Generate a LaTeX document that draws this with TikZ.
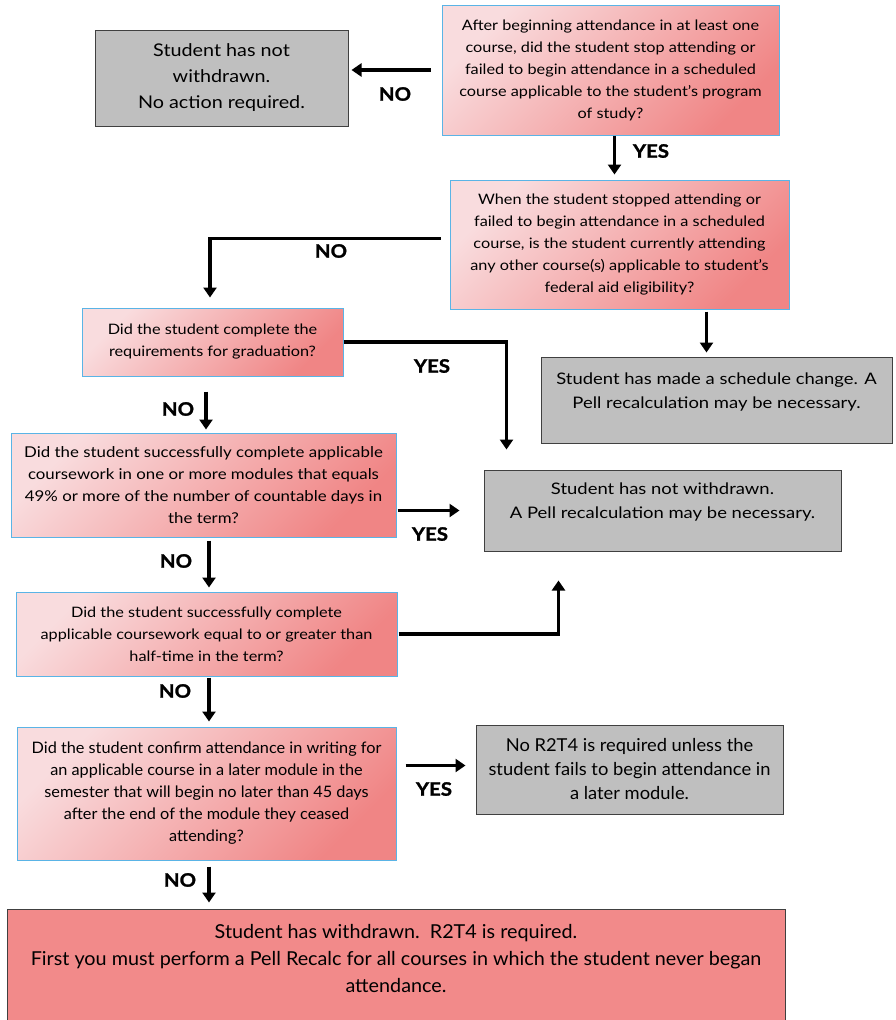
\documentclass[tikz,border=0pt]{standalone}
\usepackage{fontspec}
\setmainfont{Lato}[FakeStretch=1.13]
\newfontfamily\narrowfont{Lato}[FakeStretch=1.03]
\newfontfamily\widefont{Lato}[FakeStretch=1.16]
\newfontfamily\labelfont{Lato Bold}[FakeStretch=1.1, FakeBold=1.5]
\usetikzlibrary{arrows.meta}
\definecolor{qlight}{HTML}{F9DCDE}
\definecolor{qdark}{HTML}{F08585}
\definecolor{qedge}{HTML}{5AB4E6}
\definecolor{agray}{HTML}{BFBFBF}
\definecolor{aedge}{HTML}{404040}
\definecolor{wred}{HTML}{F28A8A}

\begin{document}
\begin{tikzpicture}[x=1pt,y=-1pt,
    question/.style={draw=qedge, line width=1pt, top color=qlight, bottom color=qdark,
      shading angle=45, align=center, inner sep=0pt, font=\fontsize{14.4}{22}\selectfont},
    answer/.style={draw=aedge, line width=1pt, fill=agray, align=center, inner sep=0pt,
      font=\widefont\fontsize{15.9}{24}\selectfont},
    final/.style={draw=aedge, line width=1pt, fill=wred, inner sep=0pt},
    arr/.style={line width=3.6pt, -{Triangle[length=10pt,width=13pt]}},
    lbl/.style={font=\labelfont\fontsize{18.5}{20}\selectfont}]
    \useasboundingbox (0,0) rectangle (896,1020);

    % questions
    \node[question, minimum width=337pt, minimum height=130pt] (Q1) at (610.5,70)
      {After beginning attendance in at least one\\course, did the student stop attending or\\
       failed to begin attendance in a scheduled\\course applicable to the student’s program\\of study?};
    \node[question, minimum width=339pt, minimum height=129pt] (Q2) at (619.5,244.5)
      {When the student stopped attending or\\failed to begin attendance in a scheduled\\
       course, is the student currently attending\\any other course(s) applicable to student’s\\
       federal aid eligibility?};
    \node[question, minimum width=261pt, minimum height=68pt] (Q3) at (212.5,342)
      {Did the student complete the\\requirements for graduation?};
    \node[question, minimum width=385pt, minimum height=104pt, font=\fontsize{14.9}{22}\selectfont] (Q4) at (203.5,485)
      {Did the student successfully complete applicable\\coursework in one or more modules that equals\\
       49\% or more of the number of countable days in\\the term?};
    \node[question, minimum width=381pt, minimum height=84pt] (Q5) at (206.5,634)
      {Did the student successfully complete\\applicable coursework equal to or greater than\\
       half-time in the term?};
    \node[question, minimum width=379pt, minimum height=133pt, font=\narrowfont\fontsize{15.8}{22}\selectfont] (Q6) at (206.5,793.5)
      {Did the student confirm attendance in writing for\\an applicable course in a later module in the\\
       semester that will begin no later than 45 days\\after the end of the module they ceased\\attending?};

    % outcomes
    \node[answer, minimum width=253pt, minimum height=96pt, font=\fontsize{17.5}{26}\selectfont] (A1) at (221.5,78)
      {Student has not\\withdrawn.\\No action required.};
    \node[answer, minimum width=351pt, minimum height=86pt] (A2) at (716.5,400) {};
    \node[align=center, font=\widefont\fontsize{15.9}{24}\selectfont] (A2t) at ([yshift=8pt]A2.center)
      {Student has made a schedule change. A\\Pell recalculation may be necessary.};
    \node[answer, minimum width=357pt, minimum height=81pt] (A3) at (662.5,510.5) {};
    \node[align=center, font=\widefont\fontsize{15.9}{24}\selectfont] (A3t) at ([yshift=8pt]A3.center)
      {Student has not withdrawn.\\A Pell recalculation may be necessary.};
    \node[answer, minimum width=307pt, minimum height=89pt, font=\narrowfont\fontsize{17.8}{24}\selectfont] (A4) at (629.5,769.5)
      {No R2T4 is required unless the\\student fails to begin attendance in\\a later module.};
    \node[final, minimum width=778pt, minimum height=132pt] (F) at (396,975) {};
    \node[align=center, font=\narrowfont\fontsize{19.2}{27}\selectfont] (Ft) at (396,958)
      {Student has withdrawn.\ \ R2T4 is required.\\First you must perform a Pell Recalc for all courses in which the student never began\\attendance.};

    % connectors
    \draw[arr, shorten <=11pt, shorten >=3pt] (Q1.west) -- (Q1.west -| A1.east);
    \draw[arr, shorten >=5pt] ([xshift=4pt]Q1.south) -- ([xshift=4pt]Q1.south |- Q2.north);
    \draw[arr, shorten <=9pt, shorten >=10pt] ([yshift=6pt]Q2.west) -| ([xshift=-2.5pt]Q3.north);
    \draw[arr, shorten <=2pt, shorten >=4pt] ([xshift=-10pt]A2.north |- Q2.south) -- ([xshift=-10pt]A2.north);
    \draw[arr, shorten >=20pt] (Q3.east) -| ([xshift=23pt]A3.north west);
    \draw[arr, shorten <=15pt, shorten >=3pt] ([xshift=2.5pt]Q4.north |- Q3.south) -- ([xshift=2.5pt]Q4.north);
    \draw[arr, shorten <=2pt, shorten >=24pt] ([xshift=-1pt]Q4.east |- A3.west) -- (A3.west);
    \draw[arr, shorten <=3pt, shorten >=4pt] ([xshift=2.5pt]Q5.north |- Q4.south) -- ([xshift=2.5pt]Q5.north);
    \draw[arr, shorten <=1pt, shorten >=29pt] (Q5.east) -| ([xshift=75pt]A3.south west);
    \draw[arr, shorten <=1pt, shorten >=5pt] ([xshift=2.5pt]Q5.south) -- ([xshift=2.5pt]Q6.north);
    \draw[arr, shorten <=9pt, shorten >=10pt] ([yshift=4pt]Q6.east |- A4.west) -- ([yshift=4pt]A4.west);
    \draw[arr, shorten <=6pt, shorten >=6pt] ([xshift=2.5pt]Q6.south) -- ([xshift=2.5pt]Q6.south |- F.north);

    % branch labels
    \node[lbl] (no1) at (395,94) {NO};
    \node[lbl] (yes1) at (651,151) {YES};
    \node[lbl] (no2) at (331,251) {NO};
    \node[lbl] (yes2) at (432,366) {YES};
    \node[lbl] (no3) at (178,409) {NO};
    \node[lbl] (yes3) at (430,534) {YES};
    \node[lbl] (no4) at (176,561) {NO};
    \node[lbl] (no5) at (175,691) {NO};
    \node[lbl] (yes4) at (434,789) {YES};
    \node[lbl] (no6) at (180,880) {NO};
\end{tikzpicture}
\end{document}
